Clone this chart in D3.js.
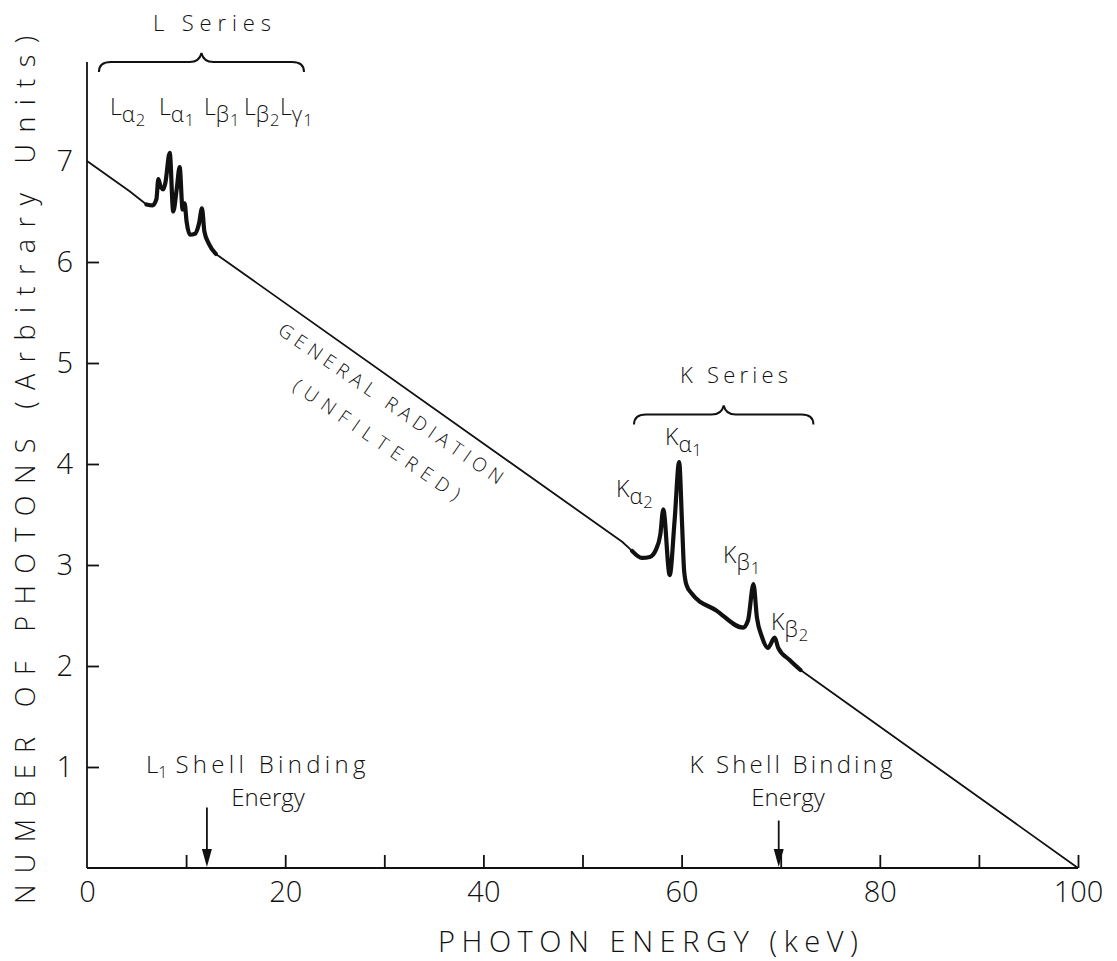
<!DOCTYPE html>
<html><head><meta charset="utf-8">
<script src="https://cdn.jsdelivr.net/npm/d3@7"></script>
<style>
body{margin:0;background:#fff}
svg{display:block}
text{font-family:"Open Sans","Liberation Sans","DejaVu Sans",sans-serif;font-weight:300;fill:#111}
</style>
</head><body>
<svg id="c" width="1117" height="961"></svg>
<script>
// ---- data ----
const energy = [0, 4.3, 6.0, 6.6, 7.0, 7.2, 7.45, 7.7, 7.9, 8.35,
  8.7, 9.05, 9.35, 9.65, 9.85, 10.05, 10.4, 10.9, 11.3, 11.6,
  11.85, 12.3, 13.0, 14.0, 54.0, 55.0, 56.0, 56.8, 57.4, 57.85,
  58.15, 58.8, 59.3, 59.75, 60.05, 60.25, 60.5, 61.0, 63.5, 66.2, 66.7,
  67.25, 67.6, 68.1, 68.7, 69.4, 69.75, 70.9, 72.0, 100];
const photons = [7.0, 6.70, 6.57, 6.56, 6.62, 6.82, 6.74, 6.72, 6.78, 7.08,
  6.50, 6.72, 6.94, 6.52, 6.58, 6.40, 6.27, 6.28, 6.38, 6.53,
  6.30, 6.18, 6.08, 6.01, 3.23, 3.14, 3.07, 3.08, 3.15, 3.30,
  3.55, 2.90, 3.45, 4.02, 3.40, 2.95, 2.80, 2.72, 2.55, 2.38, 2.45,
  2.81, 2.48, 2.29, 2.18, 2.28, 2.18, 2.06, 1.96, 0];
const thickRanges = [[6.0, 13.0], [55.0, 72.0]];
const xTicks = [10, 20, 30, 40, 50, 60, 70, 80, 90, 100];
const xTickLabels = ["0", "20", "40", "60", "80", "100"];
const xLabelValues = [0, 20, 40, 60, 80, 100];
const yTicks = [1, 2, 3, 4, 5, 6];
const yLabelValues = [1, 2, 3, 4, 5, 6, 7];
const lLines = [["L","α","2"],["L","α","1"],["L","β","1"],["L","β","2"],["L","γ","1"]];
const kLines = [["K","α","2"],["K","α","1"],["K","β","1"],["K","β","2"]];
const edgeEnergies = [12.1, 69.8];
const edgeArrowTops = [0.6, 0.47];
const seriesNames = ["L Series", "K Series"];
const braceSpans = [[1.2, 21.9, 7.98], [55.2, 73.3, 4.49]];

// ---- layout ----
const svg = d3.select("#c");
const x = d3.scaleLinear().domain([0, 100]).range([87, 1078]);
const y = d3.scaleLinear().domain([0, 7]).range([868, 161]);
const ink = "#111";

// axes lines
svg.append("line").attr("x1", x(0)).attr("x2", x(100)).attr("y1", y(0)).attr("y2", y(0))
  .attr("stroke", ink).attr("stroke-width", 2.2);
svg.append("line").attr("x1", x(0)).attr("x2", x(0)).attr("y1", y(0)).attr("y2", y(7.98))
  .attr("stroke", ink).attr("stroke-width", 1.8);

// x ticks (upward)
const xa = svg.append("g").attr("transform", `translate(0,${y(0)})`)
  .call(d3.axisBottom(x).tickValues(xTicks).tickSizeInner(-13).tickSizeOuter(0).tickFormat(""));
xa.select(".domain").remove();
xa.selectAll(".tick line").attr("stroke", ink).attr("stroke-width", 1.8);
const xl = svg.append("g").attr("transform", `translate(0,${y(0)})`)
  .call(d3.axisBottom(x).tickValues(xLabelValues).tickSize(0).tickPadding(13)
    .tickFormat((d, i) => xTickLabels[i]));
xl.select(".domain").remove();
xl.selectAll("text").style("font-size", "29px").attr("fill", ink);

// y ticks (rightward)
const ya = svg.append("g").attr("transform", `translate(${x(0)},0)`)
  .call(d3.axisLeft(y).tickValues(yTicks).tickSizeInner(-12).tickSizeOuter(0).tickFormat(""));
ya.select(".domain").remove();
ya.selectAll(".tick line").attr("stroke", ink).attr("stroke-width", 1.8);
const yl = svg.append("g").attr("transform", `translate(${x(0)},0)`)
  .call(d3.axisLeft(y).tickValues(yLabelValues).tickSize(0).tickPadding(14).tickFormat(d3.format("d")));
yl.select(".domain").remove();
yl.selectAll("text").style("font-size", "29px").attr("fill", ink);
svg.selectAll("g").attr("font-family", null).attr("font-size", null);

// axis titles
svg.append("text").attr("x", 648).attr("y", 952).attr("text-anchor", "middle")
  .attr("textLength", 420).attr("lengthAdjust", "spacing")
  .style("font-size", "29px").text("PHOTON ENERGY (keV)");
svg.append("text").attr("transform", "translate(35,470) rotate(-90)").attr("text-anchor", "middle")
  .attr("textLength", 868).attr("lengthAdjust", "spacing")
  .style("font-size", "27px").text("NUMBER OF PHOTONS (Arbitrary Units)");

// spectrum curve: straight continuum (thin), smooth characteristic peaks (thick)
const pts = energy.map((e, i) => [e, photons[i]]);
const inside = p => thickRanges.some(r => p[0] > r[0] && p[0] < r[1]);
const thin = d3.line().defined(p => !inside(p)).x(d => x(d[0])).y(d => y(d[1])).curve(d3.curveLinear);
svg.append("path").attr("d", thin(pts)).attr("fill", "none").attr("stroke", ink)
  .attr("stroke-width", 1.8).attr("stroke-linejoin", "round");
const smooth = d3.line().x(d => x(d[0])).y(d => y(d[1])).curve(d3.curveMonotoneX);
thickRanges.forEach(r => {
  const sub = pts.filter(p => p[0] >= r[0] && p[0] <= r[1]);
  svg.append("path").attr("d", smooth(sub)).attr("fill", "none").attr("stroke", ink)
    .attr("stroke-width", 4.2).attr("stroke-linejoin", "round").attr("stroke-linecap", "round");
});

// braces
function brace(x0, x1, yb) {
  const xm = (x0 + x1) / 2;
  return `M${x0},${yb + 10} Q${x0},${yb} ${x0 + 12},${yb} L${xm - 12},${yb} Q${xm - 2},${yb} ${xm},${yb - 9}` +
    ` Q${xm + 2},${yb} ${xm + 12},${yb} L${x1 - 12},${yb} Q${x1},${yb} ${x1},${yb + 10}`;
}
braceSpans.forEach(b => {
  svg.append("path").attr("d", brace(x(b[0]), x(b[1]), y(b[2]))).attr("fill", "none")
    .attr("stroke", ink).attr("stroke-width", 2);
});
const seriesPos = [[212, 31], [734, 383]];
seriesNames.forEach((s, i) => {
  svg.append("text").attr("x", seriesPos[i][0]).attr("y", seriesPos[i][1]).attr("text-anchor", "middle")
    .attr("textLength", i === 0 ? 118 : 108).attr("lengthAdjust", "spacing")
    .style("font-size", "22px").text(s);
});

// line labels
function lineLabel(px, py, parts, size) {
  const t = svg.append("text").attr("x", px).attr("y", py).style("font-size", size + "px");
  t.append("tspan").text(parts[0]);
  t.append("tspan").attr("dy", 7).style("font-size", (size * 0.95) + "px").text(parts[1]);
  t.append("tspan").attr("dy", 4).attr("dx", 1).style("font-size", (size * 0.72) + "px").text(parts[2]);
}
const lPos = [[110, 115], [159, 115], [204, 115], [244, 115], [280, 115]];
lLines.forEach((p, i) => lineLabel(lPos[i][0], lPos[i][1], p, 23));
const kPos = [[616, 497], [665, 445], [723, 563], [771, 630]];
kLines.forEach((p, i) => lineLabel(kPos[i][0], kPos[i][1], p, 23));

// general radiation label
svg.append("text").attr("transform", "translate(390,405) rotate(34.5)").attr("text-anchor", "middle")
  .attr("dominant-baseline", "middle").attr("textLength", 268).attr("lengthAdjust", "spacing")
  .style("font-size", "19px").text("GENERAL RADIATION");
svg.append("text").attr("transform", "translate(376,441) rotate(34.5)").attr("text-anchor", "middle")
  .attr("dominant-baseline", "middle").attr("textLength", 198).attr("lengthAdjust", "spacing")
  .style("font-size", "19px").text("(UNFILTERED)");

// binding edge arrows
edgeEnergies.forEach((e, i) => {
  const ex = x(e), y0 = y(0), yt = y(edgeArrowTops[i]);
  svg.append("line").attr("x1", ex).attr("x2", ex).attr("y1", yt).attr("y2", y0 - 10)
    .attr("stroke", ink).attr("stroke-width", 1.8);
  svg.append("path").attr("d", `M${ex - 5},${y0 - 19} L${ex + 5},${y0 - 19} L${ex},${y0 - 1} Z`).attr("fill", ink);
});
// edge texts
const t1 = svg.append("text").attr("x", 146).attr("y", 773).style("font-size", "24px");
t1.append("tspan").text("L");
t1.append("tspan").attr("dy", 5).style("font-size", "16px").text("1");
t1.append("tspan").attr("dy", -5).attr("dx", 8).attr("textLength", 190).attr("lengthAdjust", "spacing").text("Shell Binding");
svg.append("text").attr("x", 268).attr("y", 806).attr("text-anchor", "middle").style("font-size", "24px").text("Energy");
svg.append("text").attr("x", 791).attr("y", 773).attr("text-anchor", "middle")
  .attr("textLength", 203).attr("lengthAdjust", "spacing").style("font-size", "24px").text("K Shell Binding");
svg.append("text").attr("x", 788).attr("y", 806).attr("text-anchor", "middle").style("font-size", "24px").text("Energy");
</script>
</body></html>
